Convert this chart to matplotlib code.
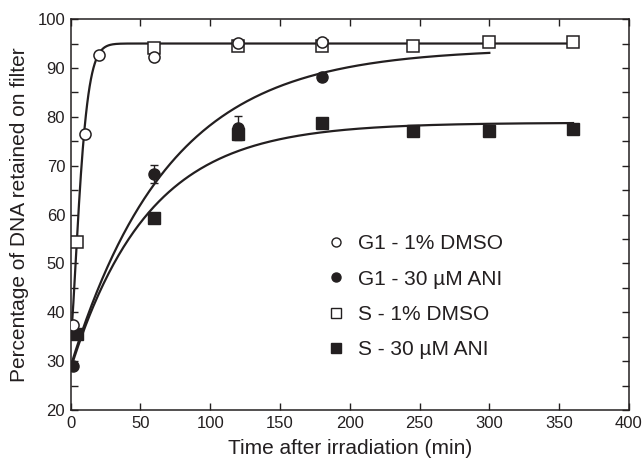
import numpy as np
import matplotlib
matplotlib.use("Agg")
import matplotlib.pyplot as plt
from matplotlib.lines import Line2D

# ---- data ----
t_g1_dmso = [1.5, 10, 20, 60, 120, 180]
y_g1_dmso = [37.3, 76.4, 92.7, 92.2, 95.1, 95.4]

t_s_dmso = [4.7, 60, 120, 180, 245, 300, 360]
y_s_dmso = [54.3, 94.0, 94.4, 94.4, 94.5, 95.3, 95.3]
e_s_dmso = [0.0, 1.0, 0.6, 0.6, 0.0, 0.6, 0.6]

t_g1_ani = [1.5, 60, 120, 180]
y_g1_ani = [29.0, 68.3, 77.8, 88.2]
e_g1_ani = [0.0, 1.8, 2.3, 0.0]

t_s_ani = [4.5, 60, 120, 180, 245, 300, 360]
y_s_ani = [35.5, 59.2, 76.5, 78.7, 77.0, 77.0, 77.6]
e_s_ani = [0.0, 0.0, 1.2, 0.0, 0.0, 0.0, 0.0]

# fitted curve parameters
dmso_top, dmso_y0, dmso_tau, dmso_p = 95.0, 35.0, 8.5, 1.4
g1ani_top, g1ani_amp, g1ani_k = 94.0, 65.0, 0.0142
sani_top, sani_amp, sani_k = 78.8, 50.3, 0.018

labels = ["G1 - 1% DMSO", "G1 - 30 \u00b5M ANI", "S - 1% DMSO", "S - 30 \u00b5M ANI"]

ink = "#231f20"
plt.rcParams['font.family'] = ['Liberation Sans', 'DejaVu Sans']

fig = plt.figure(figsize=(6.43, 4.61), dpi=100)
ax = fig.add_axes([0.110, 0.1106, 0.868, 0.848])

# curves
t1 = np.linspace(1.0, 360, 800)
ax.plot(t1, dmso_top - (dmso_top - dmso_y0) * np.exp(-(t1 / dmso_tau) ** dmso_p), color=ink, lw=1.6, zorder=2)
t2 = np.linspace(0, 300, 400)
ax.plot(t2, g1ani_top - g1ani_amp * np.exp(-g1ani_k * t2), color=ink, lw=1.6, zorder=2)
t3 = np.linspace(0, 360, 400)
ax.plot(t3, sani_top - sani_amp * np.exp(-sani_k * t3), color=ink, lw=1.6, zorder=2)

# points
kw = dict(ls='none', ecolor=ink, elinewidth=1.0, capsize=3, capthick=1.0, zorder=3)
ax.errorbar(t_s_ani, y_s_ani, yerr=e_s_ani, marker='s', ms=8.5, mfc=ink, mec=ink, **kw)
ax.errorbar(t_g1_ani, y_g1_ani, yerr=e_g1_ani, marker='o', ms=8, mfc=ink, mec=ink, **kw)
ax.errorbar(t_s_dmso, y_s_dmso, yerr=e_s_dmso, marker='s', ms=8.5, mfc='white', mec=ink, mew=1.1, **kw)
ax.errorbar(t_g1_dmso, y_g1_dmso, marker='o', ms=8, mfc='white', mec=ink, mew=1.1, **kw)

ax.set_xlim(0, 400)
ax.set_ylim(20, 100)
ax.set_xticks(np.arange(0, 401, 50))
ax.set_yticks(np.arange(20, 101, 10))
ax.set_yticks(np.arange(20, 101, 5), minor=True)
ax.tick_params(which='both', direction='in', top=True, right=True, length=5, width=1.0,
               color=ink, labelsize=12, labelcolor=ink, pad=4)
for s in ax.spines.values():
    s.set_linewidth(1.1)
    s.set_color(ink)

ax.set_xlabel("Time after irradiation (min)", fontsize=15, color=ink, labelpad=6)
ax.set_ylabel("Percentage of DNA retained on filter", fontsize=15, color=ink, labelpad=6)

handles = [
    Line2D([], [], ls='none', marker='o', ms=6.5, mfc='white', mec=ink, mew=1.0),
    Line2D([], [], ls='none', marker='o', ms=6.5, mfc=ink, mec=ink),
    Line2D([], [], ls='none', marker='s', ms=7, mfc='white', mec=ink, mew=1.0),
    Line2D([], [], ls='none', marker='s', ms=7, mfc=ink, mec=ink),
]
leg = ax.legend(handles, labels, loc='upper left', bbox_to_anchor=(315 / 643, 1 - 224 / 461),
                bbox_transform=fig.transFigure, frameon=False, fontsize=15,
                handlelength=1.0, handletextpad=0.55, labelspacing=0.78, borderpad=0)
for txt in leg.get_texts():
    txt.set_color(ink)

fig.savefig("out.png", dpi=100)
